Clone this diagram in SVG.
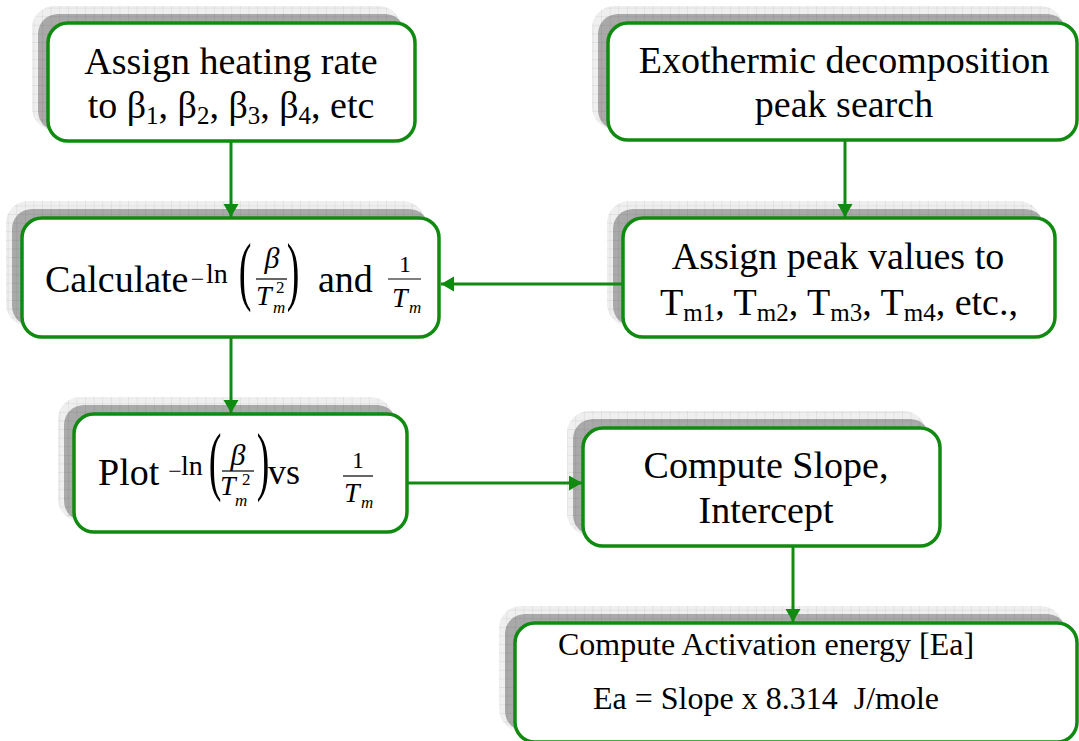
<svg xmlns="http://www.w3.org/2000/svg" width="1079" height="741" viewBox="0 0 1079 741">
<defs>
<pattern id="grid" width="8.6" height="8.6" patternUnits="userSpaceOnUse"><path d="M8.6 0V8.6H0" fill="none" stroke="#000" stroke-opacity="0.13" stroke-width="0.8"/></pattern>
<marker id="arr" markerUnits="userSpaceOnUse" markerWidth="14" markerHeight="16" refX="13" refY="7.5" orient="auto"><path d="M0,0 L13,7.5 L0,15 z" fill="#108a10"/></marker>
<style>
.halo{fill:#efefef}
.dark{fill:#a9a9a9}
.gridr{fill:url(#grid)}
.box{fill:#fff;stroke:#108a10;stroke-width:3.5}
.t{font-family:"Liberation Serif","Times New Roman",serif;fill:#000}
.m{font-family:"Liberation Serif","Times New Roman",serif;fill:#000}
.i{font-style:italic}
.c{text-anchor:middle}
.bar{stroke:#000;stroke-width:1.2}
.conn{stroke:#108a10;stroke-width:3;fill:none;marker-end:url(#arr)}
</style>
</defs>
<rect width="1079" height="741" fill="#fff"/>

<g id="n1">
<rect class="halo" x="32" y="6" width="369" height="124" rx="22"/>
<rect class="dark" x="38" y="14" width="367" height="117" rx="20"/>
<rect class="gridr" x="32" y="6" width="369" height="124" rx="22"/>
<rect class="box" x="48" y="23" width="367" height="118" rx="20"/>
<text class="t c" x="231" y="74" font-size="38">Assign heating rate</text>
<text class="t c" x="231" y="118" font-size="38">to β<tspan font-size="25" dy="6">1</tspan><tspan dy="-6">, β</tspan><tspan font-size="25" dy="6">2</tspan><tspan dy="-6">, β</tspan><tspan font-size="25" dy="6">3</tspan><tspan dy="-6">, β</tspan><tspan font-size="25" dy="6">4</tspan><tspan dy="-6">, etc</tspan></text>
</g>

<g id="n2">
<rect class="halo" x="592" y="6" width="471" height="123" rx="22"/>
<rect class="dark" x="598" y="14" width="469" height="116" rx="20"/>
<rect class="gridr" x="592" y="6" width="471" height="123" rx="22"/>
<rect class="box" x="608" y="23" width="469" height="117" rx="20"/>
<text class="t c" x="844" y="73" font-size="38">Exothermic decomposition</text>
<text class="t c" x="844" y="117" font-size="38">peak search</text>
</g>

<g id="n3">
<rect class="halo" x="6" y="201" width="419" height="125" rx="22"/>
<rect class="dark" x="12" y="209" width="417" height="117" rx="20"/>
<rect class="gridr" x="6" y="201" width="419" height="125" rx="22"/>
<rect class="box" x="22" y="218" width="417" height="119" rx="20"/>
<text class="t" x="45" y="292" font-size="38">Calculate</text>
<text class="m c" x="197.5" y="287" font-size="24">−</text>
<text class="m" x="206" y="283" font-size="28">ln</text>
<text class="m c" transform="translate(245,296) scale(0.5,1)" font-size="76">(</text>
<text class="m c i" x="272" y="268" font-size="30">β</text>
<line class="bar" x1="256" y1="279" x2="287" y2="279"/>
<text class="m i" x="256" y="305" font-size="28">T</text>
<text class="m" x="276" y="293" font-size="17">2</text>
<text class="m i" x="273" y="313" font-size="17">m</text>
<text class="m c" transform="translate(293,296) scale(0.5,1)" font-size="76">)</text>
<text class="t" x="318" y="292" font-size="38">and</text>
<text class="m c" x="405" y="272" font-size="24">1</text>
<line class="bar" x1="388" y1="279" x2="421" y2="279"/>
<text class="m i" x="392" y="307" font-size="28">T</text>
<text class="m i" x="409" y="313" font-size="17">m</text>
</g>

<g id="n4">
<rect class="halo" x="607" y="201" width="434" height="125" rx="22"/>
<rect class="dark" x="613" y="209" width="432" height="117" rx="20"/>
<rect class="gridr" x="607" y="201" width="434" height="125" rx="22"/>
<rect class="box" x="623" y="218" width="432" height="119" rx="20"/>
<text class="t c" x="838" y="269" font-size="38">Assign peak values to</text>
<text class="t c" x="839" y="315" font-size="38">T<tspan font-size="25" dy="6">m1</tspan><tspan dy="-6">, T</tspan><tspan font-size="25" dy="6">m2</tspan><tspan dy="-6">, T</tspan><tspan font-size="25" dy="6">m3</tspan><tspan dy="-6">, T</tspan><tspan font-size="25" dy="6">m4</tspan><tspan dy="-6">, etc.,</tspan></text>
</g>

<g id="n5">
<rect class="halo" x="58" y="397" width="335" height="124" rx="22"/>
<rect class="dark" x="64" y="405" width="333" height="116" rx="20"/>
<rect class="gridr" x="58" y="397" width="335" height="124" rx="22"/>
<rect class="box" x="74" y="414" width="333" height="118" rx="20"/>
<text class="t" x="98" y="485" font-size="38">Plot</text>
<text class="m c" x="175" y="479" font-size="24">−</text>
<text class="m" x="181" y="475" font-size="28">ln</text>
<text class="m c" transform="translate(215,486) scale(0.5,1)" font-size="76">(</text>
<text class="m c i" x="238" y="465" font-size="30">β</text>
<line class="bar" x1="222" y1="471" x2="254" y2="471"/>
<text class="m i" x="220" y="495" font-size="28">T</text>
<text class="m" x="242" y="485" font-size="17">2</text>
<text class="m i" x="235" y="506" font-size="17">m</text>
<text class="m c" transform="translate(263,486) scale(0.5,1)" font-size="76">)</text>
<text class="t" x="268" y="484" font-size="36">vs</text>
<text class="m c" x="358" y="468" font-size="24">1</text>
<line class="bar" x1="343" y1="476" x2="373" y2="476"/>
<text class="m i" x="344" y="502" font-size="28">T</text>
<text class="m i" x="361" y="508" font-size="17">m</text>
</g>

<g id="n6">
<rect class="halo" x="567" y="411" width="359" height="124" rx="22"/>
<rect class="dark" x="573" y="419" width="357" height="116" rx="20"/>
<rect class="gridr" x="567" y="411" width="359" height="124" rx="22"/>
<rect class="box" x="583" y="428" width="357" height="118" rx="20"/>
<text class="t c" x="766" y="478" font-size="38">Compute Slope,</text>
<text class="t c" x="766" y="523" font-size="38">Intercept</text>
</g>

<g id="n7">
<rect class="halo" x="499" y="606" width="564" height="125" rx="22"/>
<rect class="dark" x="505" y="614" width="562" height="117" rx="20"/>
<rect class="gridr" x="499" y="606" width="564" height="125" rx="22"/>
<rect class="box" x="515" y="623" width="562" height="119" rx="20"/>
<text class="t c" x="766" y="655" font-size="32">Compute Activation energy [Ea]</text>
<text class="t c" x="766" y="709" font-size="32" xml:space="preserve">Ea = Slope x 8.314  J/mole</text>
</g>

<g id="connectors">
<line class="conn" x1="231" y1="142" x2="231" y2="217"/>
<line class="conn" x1="845" y1="141" x2="845" y2="217"/>
<line class="conn" x1="622" y1="284" x2="441" y2="284"/>
<line class="conn" x1="231" y1="338" x2="231" y2="413"/>
<line class="conn" x1="408" y1="483" x2="582" y2="483"/>
<line class="conn" x1="793" y1="547" x2="793" y2="622"/>
</g>
</svg>
